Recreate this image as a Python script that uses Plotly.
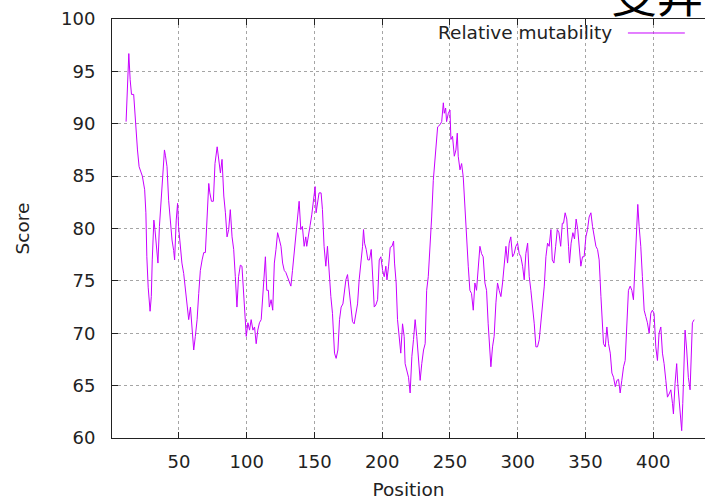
import plotly.graph_objects as go

positions = [
    11, 13, 14, 15, 16.6, 17.7, 19.4, 20.6, 23, 24.7, 25.6, 26.3, 27.3, 28.7, 29.6, 30.3,
    31.5, 32.3, 33.5, 34.5, 35.6, 36.8, 38, 39.3, 40, 41.2, 42.4, 43.6, 44.9, 46.1, 46.8, 48,
    49, 49.7, 51, 52.2, 53.5, 54.7, 56, 57.2, 58.5, 59.7, 60.9, 62.1, 63.4, 64.6, 65.8, 67.1,
    68.3, 69.5, 70.8, 72, 72.8, 74, 75.4, 76.6, 78.2, 79.4, 80.6, 81.8, 83.1, 84.3, 85.5, 86.7,
    87.9, 89.2, 90.4, 91.6, 92.8, 94, 95.3, 96.5, 97.7, 99, 99.7, 100.9, 102.1, 103.3, 104.6, 105.8,
    107, 108.2, 109.4, 110.7, 111.9, 113.1, 113.8, 114.8, 116, 116.7, 118, 119.2, 120.4, 121.6, 122.8, 124,
    125.3, 126.5, 127.7, 128.9, 130.1, 131.4, 132.6, 133.8, 135, 136.3, 137.5, 138.7, 139.9, 141.1, 142.4, 143.6,
    144.3, 145.6, 146.8, 148, 149.2, 150.5, 151.2, 152.2, 153.4, 154.9, 155.9, 157.1, 158.4, 159.6, 160.9, 162.1,
    163.3, 164.1, 164.8, 166, 167.3, 168.5, 169.7, 171, 172, 173.2, 174.4, 175.6, 176.9, 178.1, 179.3, 180.6,
    181.8, 183, 184.3, 185.5, 186.2, 187, 188.2, 189.4, 190.6, 191.9, 193.1, 194.1, 195.3, 196.6, 197.8, 199,
    200.3, 201.5, 202.7, 203.5, 204.7, 205.9, 207.2, 208.4, 209.1, 210.3, 211.3, 212.5, 213.7, 215, 216.2, 216.9,
    218.2, 219.4, 220.6, 221.9, 223.1, 224.3, 225.5, 226.8, 228, 229.2, 230.5, 231.7, 232.8, 234, 235.3, 236.5,
    237.7, 238.9, 240.2, 240.9, 242.6, 243.9, 245.1, 245.8, 246.8, 247.5, 248.8, 250, 250.7, 251.9, 253.2, 254.4,
    255.4, 256.1, 257.4, 258.6, 259.8, 261, 262.3, 263.5, 264.7, 265.9, 267.2, 268.4, 269.6, 270.9, 272.1, 273.3,
    274.5, 275.8, 277, 278.2, 279.4, 280.2, 281.4, 282.6, 283.9, 285.1, 286.3, 287.6, 288.8, 290, 291.3, 292.5,
    293.7, 294.9, 296.2, 297.4, 298.6, 299.9, 301.1, 302.3, 303.6, 304.8, 306, 307.3, 308.5, 309.7, 311, 312.2,
    313.4, 314.6, 315.9, 317.1, 318.3, 319.6, 320.8, 322, 323.2, 324.5, 325.5, 326.7, 328, 329.2, 330.4, 331.7,
    332.9, 333.8, 335, 336.2, 337.5, 338.2, 339.4, 340.7, 341.9, 343.1, 344.3, 345.6, 346.6, 347.8, 349, 350.3,
    351.5, 352.7, 354, 355.2, 356.4, 357.7, 358.9, 360.1, 361.4, 362.1, 363.3, 364.6, 365.8, 367, 368.3, 369.5,
    370.7, 372, 373.2, 374.4, 375.6, 376.8, 378.1, 379.3, 380.5, 381.7, 383, 384.2, 385.4, 386.7, 387.9, 388.6,
    389.6, 390.8, 392, 393.3, 394.5, 395.7, 397, 398.2, 399.4, 400.6, 401.9, 403.1, 404.3, 405.6, 406.8, 408,
    409.3, 410.5, 411.7, 413, 414.2, 414.9, 416.1, 417.3, 418.1, 419.3, 420.3, 421, 421.8, 422.8, 423.5, 424.7,
    425.9, 427.2, 427.9, 428.9, 430.2,
]

scores = [
    90.2, 96.7, 94.2, 92.8, 92.8, 90.4, 87.5, 85.9, 85.0, 83.7, 81.5, 77.3, 74.4, 72.1, 73.5, 77.0,
    80.8, 79.9, 77.6, 76.7, 80.2, 82.7, 84.6, 87.5, 87.0, 85.9, 82.7, 80.8, 78.9, 77.9, 77.0, 80.8,
    82.4, 80.2, 78.3, 76.7, 75.7, 74.4, 73.2, 71.3, 72.5, 70.3, 68.4, 69.7, 71.3, 73.8, 76.0, 77.0,
    77.7, 77.7, 81.5, 84.3, 83.4, 82.6, 82.6, 86.2, 87.8, 86.6, 85.3, 86.6, 83.1, 81.5, 79.2, 79.9,
    81.8, 79.2, 78.0, 75.4, 72.5, 75.4, 76.5, 76.4, 73.5, 71.0, 69.7, 71.0, 70.3, 71.3, 70.3, 70.6,
    69.0, 70.3, 71.0, 71.3, 73.5, 76.7, 77.3, 74.1, 74.1, 72.5, 73.2, 72.2, 76.7, 78.0, 79.6, 79.0,
    78.3, 76.7, 76.0, 75.8, 75.4, 74.8, 74.5, 76.0, 77.6, 79.6, 81.1, 82.6, 79.9, 80.2, 78.3, 79.2,
    78.3, 79.2, 80.3, 81.3, 82.6, 84.0, 81.5, 82.6, 83.4, 83.4, 81.8, 78.3, 76.4, 78.3, 75.1, 73.5,
    71.9, 69.7, 68.1, 67.6, 68.4, 71.3, 72.5, 72.8, 74.1, 75.1, 75.6, 74.1, 71.9, 71.1, 70.9, 71.9,
    72.8, 75.1, 76.7, 78.3, 79.9, 78.6, 78.0, 77.0, 77.0, 78.0, 75.1, 72.5, 72.7, 73.2, 77.0, 77.3,
    76.0, 75.4, 76.4, 75.1, 76.4, 78.2, 78.3, 78.8, 76.7, 74.8, 71.3, 69.7, 68.1, 70.9, 69.7, 67.1,
    66.5, 65.8, 64.3, 67.8, 69.4, 71.3, 69.7, 67.8, 65.5, 67.1, 68.4, 69.0, 74.1, 75.4, 78.0, 81.1,
    84.6, 86.9, 88.5, 89.7, 89.9, 90.2, 92.0, 91.0, 91.5, 90.2, 91.0, 91.3, 88.5, 88.8, 86.9, 87.5,
    89.1, 86.9, 85.6, 86.2, 84.9, 81.8, 79.2, 76.4, 74.1, 73.8, 72.2, 74.8, 74.1, 76.4, 78.3, 77.6,
    77.3, 74.8, 74.1, 70.9, 68.1, 66.8, 68.7, 69.7, 72.9, 74.8, 74.1, 73.5, 74.8, 76.7, 78.3, 76.7,
    78.6, 79.2, 77.3, 77.6, 78.3, 78.6, 77.6, 77.3, 76.4, 75.1, 77.6, 78.6, 75.4, 74.1, 72.5, 70.9,
    68.7, 68.7, 69.4, 70.9, 72.2, 74.5, 77.3, 78.6, 78.3, 79.9, 77.0, 76.7, 78.3, 79.9, 79.6, 78.3,
    80.5, 80.5, 81.5, 80.9, 78.3, 76.7, 78.6, 79.6, 79.0, 80.9, 79.9, 78.0, 76.4, 77.3, 77.3, 79.2,
    79.9, 81.1, 81.5, 80.2, 79.2, 78.3, 78.0, 77.0, 73.5, 71.6, 69.0, 68.7, 70.6, 69.0, 68.1, 66.2,
    65.8, 64.9, 65.5, 65.6, 64.3, 65.5, 66.8, 67.4, 70.3, 74.1, 74.5, 74.1, 73.2, 77.3, 81.1, 82.3,
    80.2, 78.3, 75.4, 72.2, 71.6, 71.0, 70.0, 71.9, 72.2, 71.9, 68.7, 67.4, 70.0, 70.6, 68.1, 67.1,
    65.5, 63.9, 64.2, 64.6, 63.3, 62.3, 65.2, 67.1, 65.2, 63.3, 61.4, 60.7, 63.3, 66.8, 70.3, 68.4,
    65.8, 64.6, 67.1, 71.0, 71.3,
]

x_ticks = [50, 100, 150, 200, 250, 300, 350, 400]
y_ticks = [60, 65, 70, 75, 80, 85, 90, 95, 100]
series_name = "Relative mutability"
chart_title = "变异"

LINE_COLOR = "rgb(200,0,255)"
FONT = "DejaVu Sans"
TXT = "#222"

fig = go.Figure()
fig.add_trace(go.Scatter(
    x=positions, y=scores, mode="lines", name=series_name,
    line=dict(color=LINE_COLOR, width=1), showlegend=False,
))

axis_common = dict(
    showgrid=True, gridcolor="rgb(165,165,165)", griddash="dot", gridwidth=1,
    showline=True, linecolor="#222", linewidth=1,
    ticks="inside", ticklen=6, tickcolor="#222", tickwidth=1,
    zeroline=False,
    tickfont=dict(family=FONT, size=18, color=TXT),
)

fig.update_layout(
    width=705, height=502,
    margin=dict(l=112, r=0, t=19, b=64),
    paper_bgcolor="white", plot_bgcolor="white",
    font=dict(family=FONT, size=18, color=TXT),
    xaxis=dict(
        range=[0.6, 438.2], tickvals=x_ticks, mirror="ticks",
        title=dict(text="Position", font=dict(family=FONT, size=18.5, color=TXT), standoff=12),
        ticklabelstandoff=7,
        **axis_common,
    ),
    yaxis=dict(
        range=[60, 100], tickvals=y_ticks, mirror=False,
        title=dict(text="Score", font=dict(family=FONT, size=18.5, color=TXT), standoff=26),
        ticklabelstandoff=12,
        **axis_common,
    ),
    annotations=[
        dict(text=series_name, xref="paper", yref="paper", x=0.846, y=0.9666,
             xanchor="right", yanchor="middle", showarrow=False,
             font=dict(family=FONT, size=18.5, color=TXT)),
        dict(text=chart_title, xref="paper", yref="paper", x=0.838, y=1.064,
             xanchor="left", yanchor="middle", showarrow=False,
             font=dict(family="Noto Sans CJK SC", size=46, color="black")),
    ],
    shapes=[
        dict(type="line", xref="paper", yref="paper", x0=0.870, x1=0.966,
             y0=0.9666, y1=0.9666, line=dict(color=LINE_COLOR, width=1)),
    ],
)

fig.write_html("out.html")
